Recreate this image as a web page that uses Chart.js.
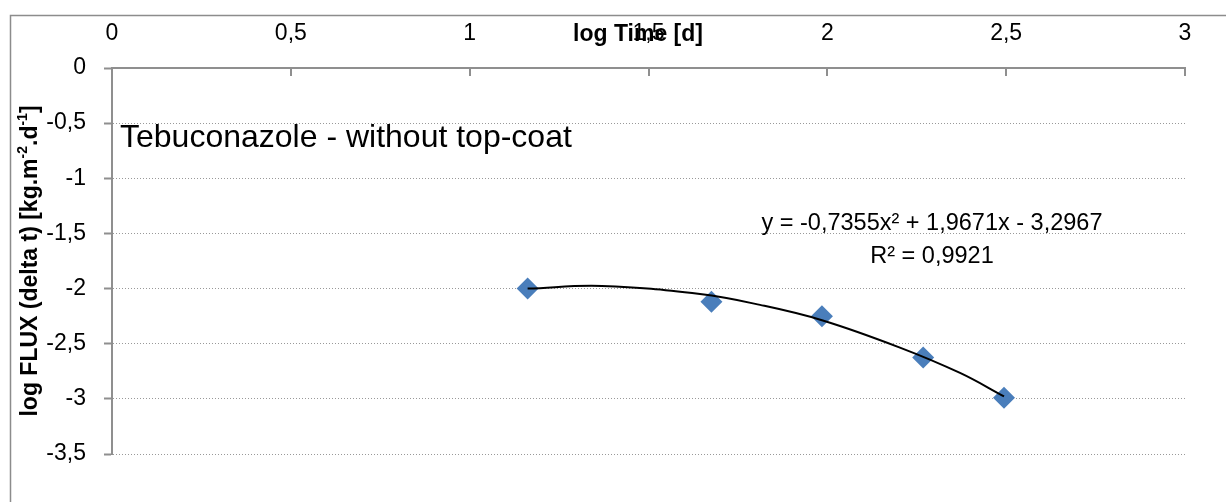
<!DOCTYPE html>
<html>
<head>
<meta charset="utf-8">
<script src="https://cdn.jsdelivr.net/npm/chart.js@4.4.0/dist/chart.umd.min.js"></script>
<style>
  html, body { margin: 0; padding: 0; background: #fff; }
  #wrap { width: 1226px; height: 502px; position: relative; }
</style>
</head>
<body>
<div id="wrap"><canvas id="fluxChart" width="1226" height="502"></canvas></div>
<script>
// measured points (log time, log flux)
const logTime = [1.162, 1.676, 1.985, 2.268, 2.494];
const logFlux = [-2.0, -2.12, -2.25, -2.626, -2.99];

// trendline
const trendX = [1.162, 1.37, 1.644, 1.812, 1.985, 2.203, 2.371, 2.494];
const trendY = [-2.0, -1.977, -2.05, -2.148, -2.287, -2.535, -2.765, -2.978];

const xTicks = [0, 0.5, 1, 1.5, 2, 2.5, 3];
const yTicks = [0, -0.5, -1, -1.5, -2, -2.5, -3, -3.5];

const chartTitle = 'Tebuconazole - without top-coat';
const equation = 'y = -0,7355x² + 1,9671x - 3,2967';
const rSquared = 'R² = 0,9921';

const FONT = '"Liberation Sans", Arial, sans-serif';
const axisGray = '#8f8f8f';

function comma(v) {
    return String(v).replace('.', ',');
}

const extras = {
    id: 'extras',
    beforeDraw(chart) {
        const c = chart.ctx;
        c.save();
        c.strokeStyle = '#8c8c8c';
        c.lineWidth = 1.5;
        c.strokeRect(10.5, 15.5, 1400, 700);
        c.restore();
    },
    afterDraw(chart) {
        const c = chart.ctx;
        const xs = chart.scales.x;
        const top = chart.chartArea.top;
        c.save();
        // tick marks of the top axis point inwards
        c.strokeStyle = axisGray;
        c.lineWidth = 2;
        xTicks.forEach(v => {
            const px = Math.round(xs.getPixelForValue(v));
            c.beginPath();
            c.moveTo(px, top);
            c.lineTo(px, top + 8);
            c.stroke();
        });

        c.fillStyle = '#000';
        // x axis title, sits level with the tick labels
        c.font = 'bold 23px ' + FONT;
        c.textAlign = 'center';
        c.textBaseline = 'middle';
        c.fillText('log Time [d]', 638, 35);

        // y axis title with superscripts
        const parts = [
            ['log FLUX (delta t) [kg.m', false],
            ['-2', true],
            ['.d', false],
            ['-1', true],
            [']', false]
        ];
        const fontFor = sup => sup ? 'bold 14px ' + FONT : 'bold 23px ' + FONT;
        let total = 0;
        parts.forEach(p => { c.font = fontFor(p[1]); total += c.measureText(p[0]).width; });
        c.translate(31, (chart.chartArea.top + chart.chartArea.bottom) / 2);
        c.rotate(-Math.PI / 2);
        c.textAlign = 'left';
        let x = -total / 2;
        parts.forEach(p => {
            c.font = fontFor(p[1]);
            c.fillText(p[0], x, p[1] ? -8 : 0);
            x += c.measureText(p[0]).width;
        });
        c.setTransform(1, 0, 0, 1, 0, 0);

        // chart label inside the plot
        c.font = '32px ' + FONT;
        c.textAlign = 'left';
        c.textBaseline = 'alphabetic';
        c.fillText(chartTitle, 120, 147);

        // trendline equation
        c.font = '23.5px ' + FONT;
        c.textAlign = 'center';
        c.fillText(equation, 932, 230);
        c.fillText(rSquared, 932, 263);
        c.restore();
    }
};

const ctx = document.getElementById('fluxChart').getContext('2d');
const fluxChart = new Chart(ctx, {
    type: 'scatter',
    data: {
        datasets: [{
            label: 'Trend',
            type: 'line',
            data: trendX.map((x, i) => ({ x: x, y: trendY[i] })),
            borderColor: '#000',
            borderWidth: 2,
            pointRadius: 0,
            tension: 0.4,
            fill: false,
            order: 0
        }, {
            label: 'Tebuconazole',
            data: logTime.map((x, i) => ({ x: x, y: logFlux[i] })),
            pointStyle: 'rectRot',
            pointRadius: 11,
            pointHoverRadius: 11,
            backgroundColor: '#4a7ebb',
            borderColor: '#4a7ebb',
            borderWidth: 0,
            order: 1
        }]
    },
    options: {
        responsive: false,
        animation: false,
        layout: { padding: { left: 0, top: 0, right: 41, bottom: 48 } },
        plugins: {
            legend: { display: false },
            tooltip: { enabled: false }
        },
        scales: {
            x: {
                type: 'linear',
                position: 'top',
                min: 0,
                max: 3,
                afterBuildTicks: s => { s.ticks = xTicks.map(v => ({ value: v })); },
                afterFit: s => { s.height = 68; },
                grid: { display: false, drawTicks: false },
                border: { display: true, color: axisGray, width: 2 },
                ticks: {
                    padding: 21,
                    color: '#000',
                    font: { family: FONT, size: 23 },
                    callback: v => comma(v)
                }
            },
            y: {
                type: 'linear',
                min: -3.5,
                max: 0,
                afterBuildTicks: s => { s.ticks = yTicks.map(v => ({ value: v })); },
                afterFit: s => { s.width = 112; },
                grid: {
                    color: '#999999',
                    lineWidth: 1,
                    tickLength: 8,
                    tickColor: axisGray,
                    tickWidth: 2
                },
                border: { display: true, color: axisGray, width: 2, dash: [1, 2] },
                ticks: {
                    padding: 18,
                    color: '#000',
                    font: { family: FONT, size: 23 },
                    callback: v => comma(v)
                }
            }
        }
    },
    plugins: [extras]
});
</script>
</body>
</html>
